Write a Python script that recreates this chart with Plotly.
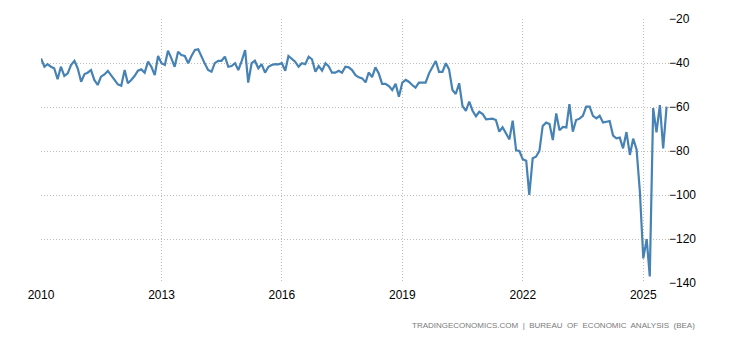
import pandas as pd
import plotly.graph_objects as go

# Monthly values, Jan 2010 .. Aug 2025 (USD billion)
start_month = "2010-01-01"
balance = [
    -37.9, -41.7, -40.5, -41.7, -42.4, -47.4, -41.7, -45.9, -44.7, -40.9, -39.0, -42.4,  # 2010
    -48.5, -45.0, -44.4, -43.2, -47.7, -50.0, -46.2, -45.2, -43.6, -45.9, -47.7, -49.7,  # 2011
    -50.3, -43.2, -49.2, -47.7, -45.9, -43.5, -42.9, -44.4, -39.4, -41.7, -45.5, -36.8,  # 2012
    -40.1, -40.9, -34.4, -37.9, -41.7, -34.9, -36.4, -36.8, -40.1, -36.8, -34.1, -33.8,  # 2013
    -37.5, -40.5, -43.2, -44.0, -40.1, -39.0, -39.0, -37.1, -41.7, -41.4, -40.1, -43.2,  # 2014
    -39.0, -34.1, -48.9, -40.1, -39.0, -42.4, -40.5, -44.4, -41.7, -40.9, -40.5, -40.6,  # 2015
    -40.1, -43.5, -36.8, -38.3, -39.4, -41.7, -40.1, -40.5, -37.1, -38.3, -44.0, -41.4,  # 2016
    -43.5, -40.1, -41.4, -44.4, -44.4, -43.5, -44.4, -41.7, -42.0, -43.2, -45.5, -46.5,  # 2017
    -47.0, -48.8, -44.3, -46.4, -42.0, -44.8, -49.5, -49.5, -50.5, -52.3, -49.5, -55.3,  # 2018
    -48.9, -47.7, -48.5, -50.0, -51.2, -48.9, -48.8, -48.9, -44.7, -42.0, -39.1, -44.0,  # 2019
    -44.0, -40.1, -42.9, -52.3, -54.1, -49.2, -59.5, -61.8, -57.5, -61.7, -64.2, -62.2,  # 2020
    -63.2, -65.6, -65.6, -65.3, -65.9, -71.2, -69.2, -72.0, -74.7, -66.2, -79.7, -80.0,  # 2021
    -83.8, -84.4, -100.0, -83.3, -82.6, -79.9, -68.6, -67.1, -67.7, -75.0, -62.9, -70.6,  # 2022
    -69.1, -69.3, -58.7, -71.2, -65.9, -65.3, -64.0, -59.8, -59.8, -64.0, -65.2, -64.0,  # 2023
    -67.0, -66.7, -66.4, -73.0, -74.2, -73.9, -78.8, -71.4, -81.8, -74.4, -79.3, -98.5,  # 2024
    -128.8, -120.0, -137.0, -60.5, -71.5, -59.1, -78.8, -59.8,                            # 2025
]
x_tick_vals = ["2010-01-01", "2013-01-01", "2016-01-01", "2019-01-01", "2022-01-01", "2025-01-01"]
x_tick_text = ["2010", "2013", "2016", "2019", "2022", "2025"]
y_tick_vals = [-140, -120, -100, -80, -60, -40, -20]
source_text = "TRADINGECONOMICS.COM  |  BUREAU  OF  ECONOMIC  ANALYSIS  (BEA)"

dates = pd.date_range(start_month, periods=len(balance), freq="MS")

fig = go.Figure()
fig.add_trace(go.Scatter(
    x=dates, y=balance, mode="lines",
    line=dict(color="#4682B4", width=2.2),
    hoverinfo="skip",
))

grid_color = "#bdbdbd"
grid_dash = "1px,2px"
fig.update_layout(
    width=730, height=340,
    margin=dict(l=41, r=60, t=19, b=57, autoexpand=False),
    paper_bgcolor="white", plot_bgcolor="white",
    showlegend=False,
    font=dict(family="Liberation Sans, Arial, sans-serif", size=12, color="#000000"),
    xaxis=dict(
        range=["2010-01-01", "2025-09-01"],
        tickvals=x_tick_vals, ticktext=x_tick_text,
        showgrid=True, gridcolor=grid_color, griddash=grid_dash, gridwidth=1,
        showline=False, zeroline=False, ticks="",
        tickfont=dict(size=12, color="#000000"),
        ticklabelstandoff=3,
        automargin=False,
    ),
    yaxis=dict(
        range=[-140, -20], side="right",
        tickvals=y_tick_vals,
        showgrid=True, gridcolor=grid_color, griddash=grid_dash, gridwidth=1,
        showline=False, zeroline=False, ticks="",
        tickfont=dict(size=12, color="#000000"),
        ticklabelstandoff=-2,
        automargin=False,
    ),
    annotations=[dict(
        text=source_text, xref="paper", yref="paper",
        x=(697 - 41) / (730 - 41 - 60), y=-(325 - 283) / (340 - 19 - 57),
        xanchor="right", yanchor="middle", showarrow=False,
        font=dict(size=8, color="#7a7a7a", family="Liberation Sans, Arial, sans-serif"),
    )],
)

fig.write_html("out.html")
